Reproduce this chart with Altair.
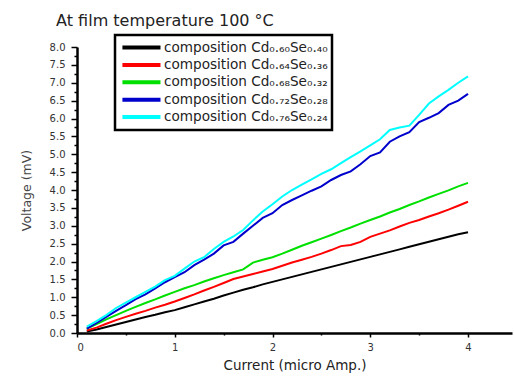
import altair as alt
import pandas as pd

current = [0.1, 0.2, 0.3, 0.4, 0.5, 0.6, 0.7, 0.8, 0.9, 1.0,
           1.1, 1.2, 1.3, 1.4, 1.5, 1.6, 1.7, 1.8, 1.9, 2.0,
           2.1, 2.2, 2.3, 2.4, 2.5, 2.6, 2.7, 2.8, 2.9, 3.0,
           3.1, 3.2, 3.3, 3.4, 3.5, 3.6, 3.7, 3.8, 3.9, 4.0]

v_060 = [0.04, 0.10, 0.17, 0.24, 0.31, 0.38, 0.45, 0.51, 0.58, 0.64,
         0.72, 0.80, 0.88, 0.96, 1.05, 1.13, 1.21, 1.28, 1.36, 1.43,
         1.50, 1.57, 1.64, 1.71, 1.78, 1.85, 1.92, 1.99, 2.06, 2.13,
         2.20, 2.27, 2.34, 2.41, 2.48, 2.55, 2.62, 2.69, 2.76, 2.82]
v_064 = [0.07, 0.15, 0.26, 0.36, 0.45, 0.54, 0.62, 0.71, 0.79, 0.88,
         0.98, 1.08, 1.19, 1.29, 1.40, 1.51, 1.58, 1.65, 1.72, 1.79,
         1.88, 1.97, 2.05, 2.13, 2.22, 2.32, 2.43, 2.46, 2.55, 2.69,
         2.78, 2.87, 2.98, 3.08, 3.16, 3.26, 3.35, 3.45, 3.56, 3.67]
v_068 = [0.12, 0.25, 0.38, 0.50, 0.62, 0.73, 0.84, 0.94, 1.05, 1.15,
         1.25, 1.34, 1.44, 1.53, 1.62, 1.70, 1.78, 1.97, 2.05, 2.12,
         2.22, 2.33, 2.44, 2.54, 2.64, 2.74, 2.85, 2.95, 3.06, 3.16,
         3.26, 3.37, 3.47, 3.58, 3.68, 3.79, 3.89, 3.99, 4.10, 4.20]
v_072 = [0.12, 0.28, 0.45, 0.62, 0.78, 0.95, 1.08, 1.25, 1.42, 1.56,
         1.70, 1.90, 2.05, 2.22, 2.45, 2.55, 2.78, 3.00, 3.22, 3.35,
         3.58, 3.72, 3.85, 3.98, 4.10, 4.28, 4.42, 4.52, 4.72, 4.95,
         5.05, 5.35, 5.50, 5.62, 5.90, 6.02, 6.15, 6.38, 6.50, 6.69]
v_076 = [0.18, 0.33, 0.50, 0.70, 0.85, 1.00, 1.15, 1.30, 1.48, 1.60,
         1.80, 2.00, 2.12, 2.35, 2.55, 2.70, 2.88, 3.15, 3.40, 3.60,
         3.82, 4.00, 4.15, 4.30, 4.45, 4.58, 4.75, 4.92, 5.08, 5.25,
         5.42, 5.68, 5.75, 5.80, 6.10, 6.42, 6.62, 6.80, 7.00, 7.18]

labels = ["composition Cd₀.₆₀Se₀.₄₀",
          "composition Cd₀.₆₄Se₀.₃₆",
          "composition Cd₀.₆₈Se₀.₃₂",
          "composition Cd₀.₇₂Se₀.₂₈",
          "composition Cd₀.₇₆Se₀.₂₄"]
colors = ["#000000", "#ff0000", "#00e000", "#0000cc", "#00ffff"]
series = [v_060, v_064, v_068, v_072, v_076]

y_ticks = [i * 0.25 for i in range(33)]
x_ticks = [i * 0.5 for i in range(9)]

rows = []
for lab, vals in zip(labels, series):
    for c, v in zip(current, vals):
        rows.append({"current": c, "voltage": v, "series": lab})
df = pd.DataFrame(rows)

FONT = "DejaVu Sans"

chart = alt.Chart(df).mark_line(strokeWidth=2, clip=True).encode(
    x=alt.X("current:Q",
            scale=alt.Scale(domain=[0, 4.45], nice=False, zero=False),
            axis=alt.Axis(values=x_ticks,
                          labelExpr="(round(datum.value*2) % 2 == 0) ? format(datum.value, 'd') : ''",
                          tickSize={"condition": {"test": "round(datum.value*2) % 2 == 0", "value": 4}, "value": 2},
                          labelOverlap=False, labelFontSize=10, labelFont=FONT, labelColor="#333",
                          domainColor="black", domainWidth=2.5, tickColor="black", tickWidth=1.5,
                          labelPadding=5, title="Current (micro Amp.)", titleFont=FONT,
                          titleFontSize=13.5, titleFontWeight="normal", titleColor="#222",
                          titlePadding=6, grid=False)),
    y=alt.Y("voltage:Q",
            scale=alt.Scale(domain=[0, 8], nice=False),
            axis=alt.Axis(values=y_ticks,
                          labelExpr="(round(datum.value*4) % 2 == 0) ? format(datum.value, '.1f') : ''",
                          tickSize={"condition": {"test": "round(datum.value*4) % 2 == 0", "value": 6}, "value": 3},
                          labelOverlap=False, labelFontSize=10, labelFont=FONT, labelColor="#333",
                          domainColor="black", domainWidth=2.5, tickColor="black", tickWidth=1.5,
                          labelPadding=6, title="Voltage (mV)", titleFont=FONT,
                          titleFontSize=12.5, titleFontWeight="normal", titleColor="#444",
                          titlePadding=16, grid=False)),
    color=alt.Color("series:N",
                    scale=alt.Scale(domain=labels, range=colors),
                    legend=alt.Legend(title=None, orient="none", legendX=38, legendY=-12,
                                      symbolType="M-0.8,0H5.2", symbolSize=161, symbolStrokeWidth=4,
                                      labelFontSize=13.6, labelFont=FONT, labelColor="#222",
                                      labelLimit=400, labelOffset=28, rowPadding=0.4,
                                      padding=4, strokeColor="black", fillColor="white")),
).properties(
    width=435,
    height=286,
    title=alt.TitleParams(text="At film temperature 100 °C", anchor="start", dx=36,
                          fontSize=16, font=FONT, fontWeight="normal", color="#222", offset=5),
    autosize=alt.AutoSizeParams(type="none"),
    padding={"left": 77, "top": 47, "right": 2, "bottom": 44},
).configure_view(stroke=None).configure_legend(strokeWidth=2.5)

chart.save("out.html", embed_options={"renderer": "svg", "actions": False})
